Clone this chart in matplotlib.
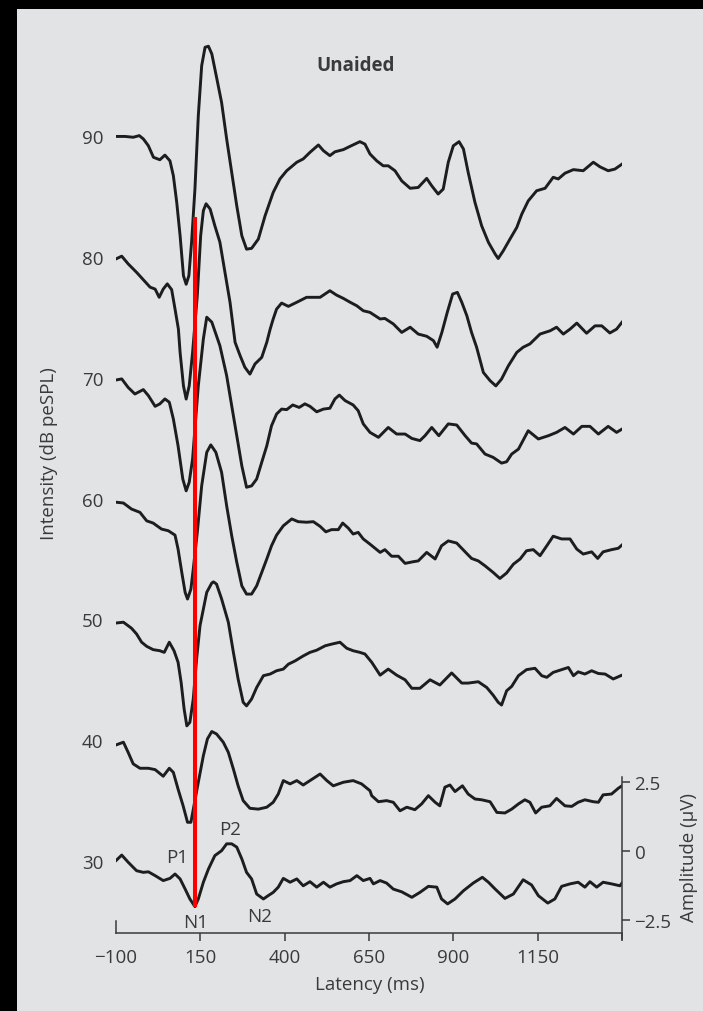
import numpy as np
import matplotlib
matplotlib.use('Agg')
import matplotlib.pyplot as plt
from matplotlib.patches import Rectangle

plt.rcParams['font.family'] = ['Open Sans', 'DejaVu Sans']

# averaged cortical responses, one waveform per stimulus level (dB peSPL)
levels = [90, 80, 70, 60, 50, 40, 30]

lat_90 = [-100, -73, -49, -31, -19, -4, 11, 30, 45, 60, 70, 80, 90, 100, 108, 116, 124, 134, 144, 154,
          164, 174, 184, 199, 213, 228, 243, 258, 273, 287, 302, 322, 342, 366, 386, 406, 436, 455, 475, 500,
          515, 534, 549, 574, 594, 623, 638, 653, 673, 692, 707, 727, 747, 772, 796, 821, 836, 855, 870, 885,
          900, 917, 930, 944, 964, 984, 1004, 1024, 1033, 1048, 1068, 1088, 1103, 1122, 1147, 1172, 1196, 1211,
          1231, 1256, 1285, 1315, 1335, 1359, 1379, 1400]
amp_90 = [-0.38, -0.38, -0.41, -0.35, -0.47, -0.72, -1.14, -1.23, -1.06, -1.27, -1.81, -2.78, -4.00, -5.46,
          -5.77, -5.46, -4.24, -2.30, 0.38, 2.20, 2.87, 2.91, 2.63, 1.72, 0.86, -0.47, -1.69, -2.91, -4.00,
          -4.49, -4.46, -4.12, -3.27, -2.42, -1.93, -1.63, -1.32, -1.20, -0.96, -0.69, -0.90, -1.08, -0.94,
          -0.86, -0.74, -0.57, -0.66, -1.02, -1.27, -1.45, -1.45, -1.63, -2.00, -2.27, -2.24, -1.91, -2.18,
          -2.48, -2.30, -1.32, -0.72, -0.57, -0.84, -1.69, -2.78, -3.64, -4.24, -4.67, -4.83, -4.55, -4.12,
          -3.70, -3.21, -2.73, -2.36, -2.27, -1.87, -1.93, -1.72, -1.59, -1.63, -1.32, -1.49, -1.63, -1.57,
          -1.39]

lat_80 = [-100, -83, -64, -39, -19, 1, 16, 28, 40, 52, 65, 75, 85, 90, 100, 108, 117, 127, 141, 151,
          159, 167, 179, 193, 208, 223, 238, 253, 268, 282, 297, 312, 332, 347, 357, 366, 376, 391, 411, 436,
          465, 505, 534, 554, 574, 594, 614, 633, 653, 683, 697, 722, 747, 772, 796, 821, 841, 852, 866, 882,
          898, 912, 925, 940, 954, 969, 989, 1009, 1026, 1043, 1063, 1088, 1107, 1127, 1157, 1187, 1206, 1226,
          1246, 1266, 1295, 1320, 1340, 1364, 1384, 1400]
amp_80 = [-0.44, -0.34, -0.62, -0.93, -1.20, -1.47, -1.54, -1.84, -1.54, -1.35, -1.56, -2.27, -3.00, -3.85,
          -5.07, -5.55, -5.07, -3.85, -1.78, 0.41, 1.32, 1.57, 1.38, 0.77, 0.17, -0.93, -2.02, -3.48, -3.97,
          -4.39, -4.64, -4.27, -4.03, -3.48, -3.00, -2.63, -2.27, -2.05, -2.17, -2.02, -1.84, -1.84, -1.60,
          -1.76, -1.88, -2.02, -2.15, -2.33, -2.39, -2.63, -2.61, -2.81, -3.12, -2.93, -3.18, -3.26, -3.42,
          -3.66, -3.12, -2.39, -1.72, -1.66, -2.02, -2.51, -3.12, -3.66, -4.58, -4.88, -5.07, -4.82, -4.34,
          -3.85, -3.66, -3.54, -3.18, -3.06, -2.93, -3.18, -3.00, -2.78, -3.15, -2.88, -2.88, -3.14, -3.00,
          -2.75]

lat_70 = [-100, -83, -64, -44, -19, -4, 16, 30, 45, 58, 70, 84, 98, 108, 117, 127, 144, 159, 169, 184,
          208, 228, 243, 258, 273, 287, 302, 317, 332, 347, 361, 376, 391, 406, 424, 443, 460, 475, 495, 515,
          534, 549, 562, 579, 603, 618, 633, 653, 678, 707, 732, 757, 777, 801, 816, 836, 857, 885, 910, 935,
          954, 969, 994, 1018, 1043, 1058, 1073, 1093, 1122, 1152, 1182, 1206, 1231, 1256, 1281, 1305, 1330,
          1359, 1384, 1400]
amp_70 = [-0.45, -0.41, -0.72, -0.96, -0.80, -1.02, -1.41, -1.32, -1.14, -1.26, -1.87, -2.85, -4.06, -4.49,
          -4.18, -3.33, -0.66, 1.05, 1.84, 1.66, 0.80, -0.29, -1.39, -2.48, -3.58, -4.36, -4.31, -4.06, -3.45,
          -2.85, -2.12, -1.69, -1.51, -1.53, -1.36, -1.45, -1.32, -1.41, -1.61, -1.51, -1.48, -1.14, -1.00,
          -1.20, -1.36, -1.57, -2.05, -2.36, -2.54, -2.18, -2.42, -2.42, -2.58, -2.66, -2.48, -2.18, -2.48,
          -2.05, -2.09, -2.48, -2.75, -2.78, -3.15, -3.27, -3.48, -3.43, -3.15, -2.97, -2.30, -2.60, -2.48,
          -2.36, -2.18, -2.42, -2.14, -2.14, -2.42, -2.14, -2.36, -2.24]

lat_60 = [-100, -78, -54, -29, -9, 10, 35, 55, 75, 84, 95, 105, 112, 122, 129, 141, 154, 169, 181, 196,
          213, 228, 243, 258, 273, 287, 302, 317, 332, 347, 361, 376, 396, 421, 440, 465, 485, 505, 522, 539,
          559, 572, 589, 603, 618, 633, 653, 683, 697, 717, 737, 757, 781, 796, 821, 846, 865, 885, 910, 935,
          954, 974, 994, 1018, 1038, 1058, 1078, 1098, 1117, 1137, 1157, 1177, 1196, 1221, 1246, 1266, 1285,
          1310, 1328, 1344, 1369, 1389, 1400]
amp_60 = [-0.50, -0.53, -0.75, -0.87, -1.18, -1.26, -1.48, -1.54, -1.70, -2.21, -3.06, -3.79, -4.03, -3.67,
          -2.94, -1.60, 0.10, 1.32, 1.59, 1.32, 0.59, -0.63, -1.72, -2.69, -3.55, -3.85, -3.85, -3.55, -3.06,
          -2.57, -2.09, -1.70, -1.36, -1.11, -1.21, -1.23, -1.21, -1.38, -1.58, -1.50, -1.50, -1.26, -1.45,
          -1.66, -1.60, -1.84, -2.03, -2.33, -2.23, -2.47, -2.47, -2.73, -2.67, -2.64, -2.33, -2.57, -2.09,
          -1.91, -1.99, -2.31, -2.55, -2.64, -2.82, -3.06, -3.28, -3.08, -2.76, -2.57, -2.27, -2.23, -2.45,
          -2.09, -1.74, -1.84, -1.84, -2.21, -2.39, -2.31, -2.55, -2.31, -2.23, -2.18, -2.06]

lat_50 = [-100, -78, -54, -39, -24, -9, 10, 30, 43, 58, 72, 84, 93, 102, 110, 119, 129, 139, 149, 169,
          184, 189, 198, 213, 233, 248, 262, 277, 287, 302, 317, 337, 357, 376, 396, 411, 431, 455, 475, 495,
          520, 539, 564, 584, 603, 623, 638, 658, 683, 707, 732, 757, 777, 801, 831, 860, 895, 925, 944, 974,
          999, 1018, 1033, 1043, 1058, 1073, 1093, 1117, 1142, 1162, 1177, 1196, 1221, 1241, 1256, 1270, 1290,
          1310, 1330, 1350, 1374, 1400]
amp_50 = [-0.50, -0.47, -0.69, -0.90, -1.20, -1.35, -1.47, -1.51, -1.57, -1.20, -1.51, -1.93, -2.66, -3.64,
          -4.25, -4.12, -3.27, -1.81, -0.60, 0.62, 0.96, 1.00, 0.92, 0.38, -0.47, -1.57, -2.54, -3.39, -3.52,
          -3.27, -2.85, -2.42, -2.36, -2.24, -2.18, -2.00, -1.88, -1.70, -1.57, -1.49, -1.33, -1.27, -1.20,
          -1.42, -1.51, -1.57, -1.63, -1.93, -2.40, -2.18, -2.40, -2.57, -2.88, -2.88, -2.57, -2.76, -2.32,
          -2.69, -2.69, -2.64, -2.85, -3.13, -3.39, -3.49, -2.97, -2.81, -2.42, -2.20, -2.15, -2.42, -2.48,
          -2.30, -2.20, -2.12, -2.42, -2.28, -2.36, -2.24, -2.34, -2.36, -2.54, -2.40]

lat_40 = [-100, -78, -64, -49, -29, -4, 16, 40, 58, 70, 84, 99, 112, 122, 131, 144, 159, 171, 184, 198,
          218, 233, 248, 262, 277, 297, 322, 347, 366, 381, 396, 416, 436, 455, 475, 505, 525, 544, 574, 603,
          628, 653, 658, 678, 702, 722, 742, 762, 786, 806, 826, 846, 860, 875, 890, 905, 927, 944, 964, 984,
          1009, 1029, 1053, 1073, 1093, 1112, 1127, 1144, 1162, 1186, 1206, 1231, 1251, 1270, 1290, 1315, 1330,
          1344, 1369, 1389, 1400]
amp_40 = [-0.54, -0.44, -0.81, -1.23, -1.39, -1.39, -1.44, -1.68, -1.39, -1.54, -2.15, -2.76, -3.36, -3.36,
          -2.76, -1.90, -0.93, -0.32, -0.05, -0.14, -0.44, -0.81, -1.42, -2.03, -2.57, -2.85, -2.88, -2.81,
          -2.63, -2.33, -1.84, -1.96, -1.84, -2.00, -1.84, -1.60, -1.84, -2.03, -1.90, -1.84, -1.96, -2.21,
          -2.39, -2.61, -2.57, -2.63, -2.94, -2.81, -2.90, -2.69, -2.39, -2.63, -2.76, -2.08, -2.00, -2.24,
          -2.03, -2.33, -2.51, -2.54, -2.61, -3.00, -3.02, -2.88, -2.69, -2.54, -2.63, -3.02, -2.81, -2.76,
          -2.49, -2.76, -2.78, -2.63, -2.54, -2.61, -2.63, -2.36, -2.33, -2.12, -2.03]

lat_30 = [-100, -83, -64, -39, -19, -4, 16, 40, 60, 75, 90, 105, 119, 134, 144, 159, 174, 193, 213, 228,
          243, 258, 273, 287, 302, 317, 337, 351, 366, 381, 396, 416, 436, 455, 475, 495, 515, 534, 554, 574,
          594, 614, 633, 653, 663, 683, 702, 722, 747, 777, 801, 826, 851, 865, 883, 905, 930, 959, 986, 1004,
          1024, 1053, 1078, 1107, 1132, 1152, 1180, 1201, 1221, 1246, 1270, 1290, 1305, 1325, 1344, 1369, 1394,
          1400]
amp_30 = [-0.35, -0.15, -0.41, -0.72, -0.78, -0.76, -0.90, -1.08, -1.00, -0.84, -1.02, -1.39, -1.75, -2.03,
          -1.75, -1.14, -0.66, -0.17, 0.01, 0.26, 0.26, 0.14, -0.29, -0.78, -1.02, -1.57, -1.75, -1.63, -1.51,
          -1.32, -1.00, -1.14, -1.02, -1.27, -1.12, -1.32, -1.14, -1.32, -1.20, -1.12, -1.08, -0.90, -1.08,
          -1.00, -1.20, -1.08, -1.17, -1.39, -1.49, -1.69, -1.51, -1.29, -1.32, -1.75, -1.93, -1.75, -1.45,
          -1.17, -0.96, -1.14, -1.39, -1.73, -1.57, -1.05, -1.24, -1.63, -1.90, -1.75, -1.29, -1.20, -1.14,
          -1.32, -1.12, -1.32, -1.14, -1.20, -1.27, -1.17]

latencies = [lat_90, lat_80, lat_70, lat_60, lat_50, lat_40, lat_30]
amplitudes = [amp_90, amp_80, amp_70, amp_60, amp_50, amp_40, amp_30]

x_ticks = [-100, 150, 400, 650, 900, 1150, 1400]
x_labels = ['\u2212100', '150', '400', '650', '900', '1150', '']
amp_ticks = [-2.5, 0, 2.5]
amp_labels = ['\u22122.5', '0', '2.5']

# N1 latency marker
n1_latency = 134
n1_top = 83.3

GAIN = 2.27   # intensity-axis units per microvolt
BASE = 0.83   # 0 uV sits this far above each level
Y0, Y1 = 24.04, 98.86

ink = '#3a3a3a'
fs = 13.5

fig = plt.figure(figsize=(7.03, 10.12), dpi=100, facecolor='black')
fig.add_artist(Rectangle((17 / 703, 0), 686 / 703, 1002 / 1012, transform=fig.transFigure,
                         facecolor='#e2e3e5', edgecolor='none', zorder=0))

ax = fig.add_axes([116 / 703, 78 / 1012, 506 / 703, 904 / 1012])
ax.set_facecolor('none')
ax.set_xlim(-100, 1400)
ax.set_ylim(Y0, Y1)

for lvl, lat, amp in zip(levels, latencies, amplitudes):
    ax.plot(lat, lvl + BASE + GAIN * np.array(amp), color='#1d1d1d', lw=2.1,
            solid_joinstyle='round', zorder=3)

n1_bottom = 30 + BASE + GAIN * np.interp(n1_latency, lat_30, amp_30)
ax.plot([n1_latency, n1_latency], [n1_bottom, n1_top], color='#ff0000', lw=2.9,
        solid_capstyle='butt', zorder=4)

# component labels on the 30 dB trace
for txt, x, y in [('P1', 80, 30.3), ('P2', 238, 32.65), ('N1', 137, 24.95), ('N2', 325, 25.47)]:
    ax.text(x, y, txt, ha='center', va='center', fontsize=fs, color=ink)

for side in ['top', 'right']:
    ax.spines[side].set_visible(False)
ax.spines['bottom'].set_bounds(-100, 1400)
ax.spines['left'].set_bounds(Y0, Y0 + 1.0)
for side in ['bottom', 'left']:
    ax.spines[side].set_color(ink)
    ax.spines[side].set_linewidth(1.1)

ax.set_xticks(x_ticks)
ax.set_xticklabels(x_labels)
ax.tick_params(axis='x', direction='out', length=6, width=1.1, color=ink,
               labelsize=fs, labelcolor=ink, pad=5)
ax.xaxis.get_major_ticks()[0].tick1line.set_visible(False)

ax.set_yticks(levels)
ax.set_yticklabels([str(v) for v in levels])
ax.tick_params(axis='y', length=0, labelsize=fs, labelcolor=ink, pad=9)

ax.set_xlabel('Latency (ms)', fontsize=fs, color=ink)
ax.xaxis.set_label_coords(0.502, -0.0465)
ax.set_ylabel('Intensity (dB peSPL)', fontsize=fs, color=ink)
ax.yaxis.set_label_coords(-0.115, 0.531)

# amplitude scale on the right
amp_ax = ax.twinx()
amp_ax.set_ylim((Y0 - 30 - BASE) / GAIN, (Y1 - 30 - BASE) / GAIN)
for side in ['top', 'left', 'bottom']:
    amp_ax.spines[side].set_visible(False)
amp_ax.spines['right'].set_bounds(-3.21, 2.70)
amp_ax.spines['right'].set_color(ink)
amp_ax.spines['right'].set_linewidth(1.1)
amp_ax.set_yticks(amp_ticks)
amp_ax.set_yticklabels(amp_labels)
amp_ax.tick_params(axis='y', direction='out', length=6, width=1.1, color=ink,
                   labelsize=fs, labelcolor=ink, pad=3)
amp_ax.set_ylabel('Amplitude (\u00b5V)', fontsize=fs, color=ink)
amp_ax.yaxis.set_label_coords(1.115, 0.085)

fig.text(356 / 703, 1 - 66 / 1012, 'Unaided', ha='center', va='center',
         fontsize=fs, fontweight='bold', color=ink)

fig.savefig('out.png', dpi=100, facecolor=fig.get_facecolor())
